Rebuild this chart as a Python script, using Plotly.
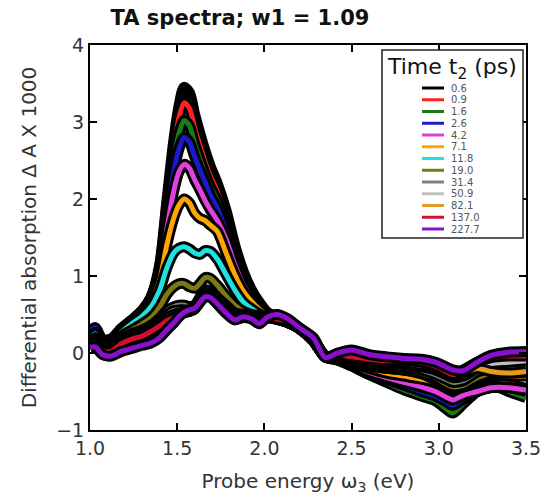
import plotly.graph_objects as go

energy = [1.00, 1.03, 1.07, 1.12, 1.18, 1.24, 1.30, 1.35, 1.40, 1.44,
          1.48, 1.51, 1.54, 1.57, 1.60, 1.63, 1.66, 1.69, 1.73, 1.78,
          1.83, 1.88, 1.93, 1.97, 2.02, 2.07, 2.13, 2.20, 2.28, 2.35,
          2.42, 2.50, 2.60, 2.70, 2.80, 2.90, 2.98, 3.04, 3.08, 3.14,
          3.22, 3.30, 3.40, 3.50]

times = ["0.6", "0.9", "1.6", "2.6", "4.2", "7.1", "11.8", "19.0", "31.4",
         "50.9", "82.1", "137.0", "227.7"]

colors = ["#000000", "#ff2020", "#1a7a1a", "#1a1acc", "#e040e0", "#ffa500",
          "#20e0e0", "#7a7a10", "#808080", "#c0c0c0", "#e69a20", "#d01030",
          "#8a10d0"]

s_0p6 = [0.15, 0.22, 0.12, 0.14, 0.30, 0.42, 0.55, 0.72, 1.15, 1.95,
         2.75, 3.20, 3.45, 3.38, 3.10, 2.85, 2.62, 2.42, 2.20, 1.85,
         1.40, 1.05, 0.80, 0.66, 0.52, 0.47, 0.42, 0.32, 0.17, -0.04,
         -0.07, -0.14, -0.24, -0.34, -0.42, -0.48, -0.55, -0.64, -0.70, -0.60,
         -0.45, -0.35, -0.42, -0.48]
s_0p9 = [0.18, 0.25, 0.14, 0.16, 0.30, 0.42, 0.55, 0.72, 1.12, 1.90,
         2.65, 3.05, 3.25, 3.18, 2.92, 2.70, 2.48, 2.30, 2.10, 1.76,
         1.34, 1.00, 0.78, 0.64, 0.52, 0.47, 0.42, 0.32, 0.17, -0.04,
         -0.07, -0.14, -0.24, -0.33, -0.40, -0.46, -0.53, -0.62, -0.68, -0.58,
         -0.44, -0.34, -0.40, -0.46]
s_1p6 = [0.20, 0.26, 0.15, 0.17, 0.31, 0.42, 0.55, 0.72, 1.10, 1.82,
         2.50, 2.85, 3.02, 2.95, 2.72, 2.52, 2.33, 2.16, 1.98, 1.66,
         1.28, 0.97, 0.76, 0.63, 0.51, 0.46, 0.41, 0.32, 0.16, -0.05,
         -0.09, -0.17, -0.28, -0.38, -0.48, -0.56, -0.62, -0.72, -0.78, -0.66,
         -0.50, -0.42, -0.50, -0.58]
s_2p6 = [0.28, 0.33, 0.18, 0.18, 0.32, 0.43, 0.55, 0.72, 1.08, 1.75,
         2.35, 2.65, 2.80, 2.74, 2.55, 2.38, 2.22, 2.05, 1.88, 1.58,
         1.22, 0.93, 0.73, 0.61, 0.50, 0.46, 0.41, 0.32, 0.16, -0.05,
         -0.09, -0.16, -0.26, -0.34, -0.42, -0.50, -0.56, -0.63, -0.68, -0.60,
         -0.50, -0.45, -0.45, -0.50]
s_4p2 = [0.20, 0.27, 0.15, 0.16, 0.30, 0.42, 0.54, 0.70, 1.02, 1.60,
         2.10, 2.35, 2.45, 2.40, 2.25, 2.12, 1.98, 1.86, 1.72, 1.48,
         1.15, 0.88, 0.70, 0.59, 0.49, 0.45, 0.40, 0.32, 0.16, -0.05,
         -0.09, -0.15, -0.25, -0.32, -0.38, -0.44, -0.50, -0.57, -0.61, -0.55,
         -0.50, -0.45, -0.45, -0.48]
s_7p1 = [0.15, 0.22, 0.12, 0.14, 0.28, 0.40, 0.52, 0.66, 0.95, 1.40,
         1.75, 1.92, 2.00, 1.95, 1.82, 1.75, 1.72, 1.66, 1.58, 1.30,
         1.02, 0.80, 0.66, 0.57, 0.48, 0.45, 0.40, 0.32, 0.16, -0.05,
         -0.08, -0.13, -0.20, -0.26, -0.30, -0.34, -0.38, -0.44, -0.48, -0.44,
         -0.36, -0.30, -0.30, -0.30]
s_11p8 = [0.18, 0.25, 0.13, 0.14, 0.27, 0.38, 0.48, 0.60, 0.82, 1.10,
          1.30, 1.36, 1.38, 1.35, 1.30, 1.28, 1.33, 1.32, 1.22, 1.02,
          0.82, 0.66, 0.57, 0.51, 0.46, 0.44, 0.40, 0.32, 0.16, -0.05,
          -0.08, -0.13, -0.17, -0.20, -0.22, -0.27, -0.35, -0.43, -0.46, -0.44,
          -0.34, -0.28, -0.26, -0.25]
s_19p0 = [0.12, 0.20, 0.10, 0.10, 0.22, 0.30, 0.38, 0.46, 0.60, 0.76,
          0.86, 0.90, 0.90, 0.86, 0.84, 0.90, 0.98, 0.97, 0.88, 0.74,
          0.62, 0.54, 0.50, 0.48, 0.46, 0.44, 0.40, 0.32, 0.16, -0.05,
          -0.07, -0.12, -0.16, -0.20, -0.22, -0.26, -0.32, -0.40, -0.44, -0.42,
          -0.32, -0.26, -0.24, -0.22]
s_31p4 = [0.10, 0.18, 0.08, 0.08, 0.18, 0.25, 0.30, 0.36, 0.45, 0.55,
          0.60, 0.62, 0.62, 0.60, 0.62, 0.72, 0.82, 0.80, 0.72, 0.62,
          0.52, 0.50, 0.47, 0.45, 0.46, 0.44, 0.40, 0.32, 0.17, -0.05,
          -0.06, -0.10, -0.14, -0.17, -0.19, -0.22, -0.28, -0.34, -0.38, -0.36,
          -0.25, -0.20, -0.18, -0.17]
s_50p9 = [0.08, 0.16, 0.06, 0.06, 0.16, 0.22, 0.27, 0.33, 0.42, 0.50,
          0.55, 0.56, 0.56, 0.56, 0.60, 0.70, 0.80, 0.78, 0.68, 0.58,
          0.48, 0.48, 0.46, 0.44, 0.46, 0.44, 0.40, 0.32, 0.17, -0.05,
          -0.05, -0.08, -0.12, -0.14, -0.15, -0.18, -0.22, -0.28, -0.32, -0.30,
          -0.20, -0.14, -0.12, -0.10]
s_82p1 = [0.07, 0.14, 0.05, 0.04, 0.14, 0.20, 0.24, 0.30, 0.38, 0.46,
          0.50, 0.52, 0.53, 0.54, 0.58, 0.68, 0.78, 0.76, 0.66, 0.56,
          0.46, 0.47, 0.45, 0.42, 0.47, 0.44, 0.40, 0.32, 0.18, -0.05,
          -0.04, -0.06, -0.10, -0.12, -0.13, -0.16, -0.20, -0.26, -0.30, -0.26,
          -0.20, -0.24, -0.26, -0.24]
s_137p0 = [0.06, 0.12, 0.03, 0.02, 0.12, 0.18, 0.22, 0.28, 0.35, 0.42,
           0.46, 0.50, 0.52, 0.54, 0.57, 0.66, 0.76, 0.74, 0.64, 0.52,
           0.44, 0.46, 0.44, 0.40, 0.48, 0.44, 0.42, 0.32, 0.18, -0.05,
           -0.02, -0.05, -0.08, -0.10, -0.10, -0.12, -0.17, -0.24, -0.28, -0.22,
           -0.12, -0.06, -0.04, -0.04]
s_227p7 = [0.07, 0.08, -0.02, -0.04, 0.02, 0.06, 0.10, 0.13, 0.20, 0.30,
           0.39, 0.47, 0.53, 0.56, 0.58, 0.66, 0.73, 0.72, 0.64, 0.52,
           0.43, 0.47, 0.44, 0.38, 0.47, 0.50, 0.45, 0.33, 0.20, -0.06,
           0.00, 0.04, -0.02, -0.05, -0.07, -0.08, -0.12, -0.18, -0.22, -0.23,
           -0.12, -0.03, 0.01, 0.02]

series = [s_0p6, s_0p9, s_1p6, s_2p6, s_4p2, s_7p1, s_11p8, s_19p0, s_31p4,
          s_50p9, s_82p1, s_137p0, s_227p7]

W, H = 545, 499
ML, MR, MT, MB = 90, 19, 45, 69
PW, PH = W - ML - MR, H - MT - MB


def px(xp):
    return (xp - ML) / PW


def py(yp):
    return (H - MB - yp) / PH


fig = go.Figure()
for name, col, vals in zip(times, colors, series):
    fig.add_trace(go.Scatter(x=energy, y=vals, mode="lines", showlegend=False,
                             hoverinfo="skip",
                             line=dict(color="black", width=11, shape="spline", smoothing=0.8)))
    fig.add_trace(go.Scatter(x=energy, y=vals, mode="lines", name=name, showlegend=False,
                             line=dict(color=col, width=5, shape="spline", smoothing=0.8)))

font = "DejaVu Sans, Arial, sans-serif"

# legend drawn as box, lines and texts
shapes = [dict(type="rect", xref="paper", yref="paper",
               x0=px(382), x1=px(523), y0=py(238), y1=py(50),
               line=dict(color="#222", width=1.5), fillcolor="white", layer="above")]
annotations = [dict(text="Time t<sub>2</sub> (ps)", xref="paper", yref="paper",
                    x=px(452), y=py(68), xanchor="center", yanchor="middle",
                    showarrow=False, font=dict(family=font, size=22, color="#111"))]
for i, (name, col) in enumerate(zip(times, colors)):
    yy = 88 + i * 11.75
    shapes.append(dict(type="line", xref="paper", yref="paper",
                       x0=px(422), x1=px(444), y0=py(yy), y1=py(yy),
                       line=dict(color=col, width=3), layer="above"))
    annotations.append(dict(text=name, xref="paper", yref="paper",
                            x=px(449), y=py(yy), xanchor="left", yanchor="middle",
                            showarrow=False, font=dict(family=font, size=10, color="#555")))

axis_common = dict(showline=True, linecolor="black", linewidth=2, mirror="ticks",
                   ticks="inside", ticklen=7, tickwidth=2, tickcolor="black",
                   showgrid=False, zeroline=False, automargin=False,
                   tickfont=dict(family=font, size=19, color="#333"))
fig.update_layout(
    width=W, height=H,
    margin=dict(l=ML, r=MR, t=MT, b=MB),
    paper_bgcolor="white", plot_bgcolor="white",
    showlegend=False,
    title=dict(text="<b>TA spectra; w1 = 1.09</b>", x=240 / W, xanchor="center",
               y=1 - 18 / H, yanchor="middle",
               font=dict(family=font, size=21, color="#111")),
    xaxis=dict(range=[1.0, 3.5], tickvals=[1.0, 1.5, 2.0, 2.5, 3.0, 3.5],
               ticktext=["1.0", "1.5", "2.0", "2.5", "3.0", "3.5"],
               title=dict(text="Probe energy ω<sub>3</sub> (eV)", standoff=16,
                          font=dict(family=font, size=20, color="#333")),
               **axis_common),
    yaxis=dict(range=[-1, 4], tickvals=[-1, 0, 1, 2, 3, 4],
               ticktext=["\u22121", "0", "1", "2", "3", "4"],
               title=dict(text="Differential absorption \u0394 A X 1000", standoff=14,
                          font=dict(family=font, size=20, color="#333")),
               **axis_common),
    shapes=shapes,
    annotations=annotations,
)

fig.write_html("out.html")
